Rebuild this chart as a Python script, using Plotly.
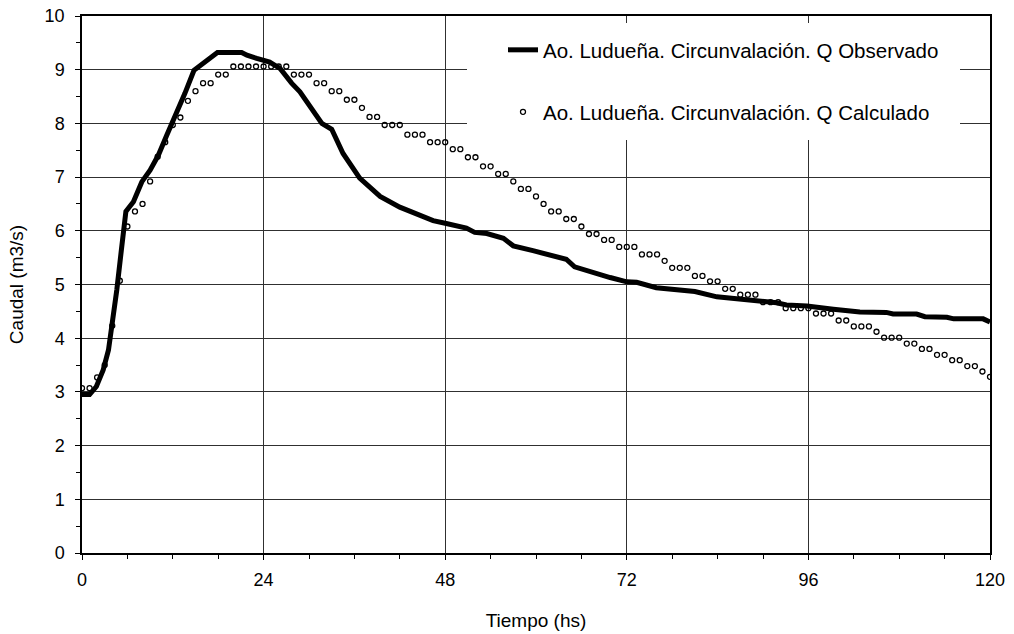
import plotly.graph_objects as go

obs_t = [0, 1, 1.9, 2.8, 3.5, 3.9, 4.6, 5.2, 5.8, 6.8, 7.9, 9.0, 10.1, 11.2, 12.3, 13.6,
         14.8, 16.7, 17.9, 21.1, 21.8, 23.1, 24.8, 26.2, 27.7, 28.8, 30.6, 31.7, 33.0,
         34.5, 36.7, 39.4, 42.0, 44.2, 46.4, 48.0, 50.8, 51.9, 53.5, 55.7, 57.0, 59.6,
         62.3, 64.0, 65.1, 67.1, 69.8, 72.0, 73.3, 75.9, 78.6, 81.0, 83.9, 86.1, 88.7,
         91.8, 93.1, 95.8, 99.3, 102.8, 106.3, 107.2, 110.3, 111.4, 114.3, 115.2, 119.1, 120]
obs_q = [2.95, 2.95, 3.10, 3.41, 3.78, 4.15, 4.90, 5.64, 6.36, 6.54, 6.91, 7.13, 7.41, 7.78,
         8.12, 8.56, 8.99, 9.18, 9.32, 9.32, 9.27, 9.21, 9.14, 9.02, 8.75, 8.59, 8.22, 8.00,
         7.89, 7.44, 6.98, 6.64, 6.44, 6.31, 6.19, 6.14, 6.05, 5.97, 5.95, 5.86, 5.72, 5.63,
         5.54, 5.47, 5.33, 5.24, 5.13, 5.05, 5.04, 4.94, 4.90, 4.87, 4.77, 4.74, 4.69, 4.66,
         4.62, 4.60, 4.54, 4.49, 4.48, 4.45, 4.45, 4.40, 4.39, 4.36, 4.36, 4.30]

# Calculated discharge, hourly 0..120
calc_t = list(range(0, 121))
calc_q = [3.07, 3.07, 3.27, 3.50, 4.23, 5.07, 6.08, 6.36, 6.50, 6.92,
          7.38, 7.65, 7.97, 8.11, 8.42, 8.60, 8.75, 8.75, 8.91, 8.91,
          9.06, 9.06, 9.06, 9.06, 9.06, 9.06, 9.06, 9.06, 8.91, 8.91,
          8.91, 8.75, 8.75, 8.60, 8.60, 8.44, 8.44, 8.29, 8.12, 8.12,
          7.97, 7.97, 7.97, 7.79, 7.79, 7.79, 7.65, 7.65, 7.65, 7.52,
          7.52, 7.37, 7.37, 7.20, 7.20, 7.06, 7.06, 6.92, 6.78, 6.78,
          6.64, 6.50, 6.36, 6.36, 6.22, 6.22, 6.08, 5.94, 5.94, 5.83,
          5.83, 5.70, 5.70, 5.70, 5.56, 5.56, 5.56, 5.44, 5.31, 5.31,
          5.31, 5.16, 5.16, 5.06, 5.06, 4.92, 4.92, 4.81, 4.81, 4.81,
          4.67, 4.67, 4.67, 4.56, 4.56, 4.56, 4.56, 4.46, 4.46, 4.46,
          4.33, 4.33, 4.22, 4.22, 4.22, 4.12, 4.01, 4.01, 4.01, 3.90,
          3.90, 3.80, 3.80, 3.69, 3.69, 3.59, 3.59, 3.48, 3.48, 3.38,
          3.28]

x_ticks = [0, 24, 48, 72, 96, 120]
y_ticks = list(range(0, 11))
name_obs = "Ao. Ludueña. Circunvalación. Q Observado"
name_calc = "Ao. Ludueña. Circunvalación. Q Calculado"

FONT = "Liberation Sans, Arial, sans-serif"

fig = go.Figure()
fig.add_trace(go.Scatter(x=obs_t, y=obs_q, mode="lines", name=name_obs, showlegend=True,
                         line=dict(color="black", width=5), legend="legend"))
fig.add_trace(go.Scatter(x=calc_t, y=calc_q, mode="markers", name=name_calc, showlegend=True,
                         marker=dict(symbol="circle-open", size=5, color="black",
                                     line=dict(width=1.3, color="black")),
                         legend="legend2"))

L, R, T, B = 82, 24, 16, 81
W, H = 1014, 634
pw, ph = W - L - R, H - T - B
XMAX, YMAX = 120, 10

def px_x(p):
    return (p - L) / pw

def px_y(p):
    return (H - B - p) / ph

axis_common = dict(showline=True, linecolor="black", linewidth=1.5, mirror=True,
                   showgrid=True, gridcolor="#303030", gridwidth=1, zeroline=False,
                   ticks="outside", ticklen=5, tickcolor="black", tickwidth=1,
                   automargin=False,
                   tickfont=dict(family=FONT, size=18, color="black"))

fig.update_layout(
    width=W, height=H, autosize=False, showlegend=True,
    margin=dict(l=L, r=R, t=T, b=B, autoexpand=False),
    paper_bgcolor="white", plot_bgcolor="white",
    font=dict(family=FONT, size=18, color="black"),
    xaxis=dict(range=[0, XMAX], tickmode="array", tickvals=x_ticks,
               minor=dict(dtick=6, tick0=0, ticks="outside", ticklen=4, tickcolor="black", showgrid=False),
               ticklabelstandoff=5,
               title=dict(text="Tiempo (hs)", standoff=24, font=dict(family=FONT, size=19)),
               **axis_common),
    yaxis=dict(range=[0, YMAX], tickmode="array", tickvals=y_ticks,
               minor=dict(dtick=0.5, tick0=0, ticks="outside", ticklen=4, tickcolor="black", showgrid=False),
               ticklabelstandoff=7,
               title=dict(text="Caudal (m3/s)", standoff=16, font=dict(family=FONT, size=19)),
               **axis_common),
    shapes=[dict(type="rect", xref="x", yref="y",
                 x0=px_x(467) * XMAX, x1=px_x(960) * XMAX,
                 y0=px_y(140) * YMAX, y1=px_y(23) * YMAX,
                 fillcolor="white", line=dict(width=0), layer="between")],
    legend=dict(x=px_x(503), y=px_y(50), xanchor="left", yanchor="middle",
                bgcolor="rgba(0,0,0,0)", font=dict(family=FONT, size=20.5, color="black")),
    legend2=dict(x=px_x(503), y=px_y(112), xanchor="left", yanchor="middle",
                 bgcolor="rgba(0,0,0,0)", font=dict(family=FONT, size=20.5, color="black")),
)

fig.write_html("out.html", config={"displayModeBar": False},
               post_script="document.body.style.margin='0';")
